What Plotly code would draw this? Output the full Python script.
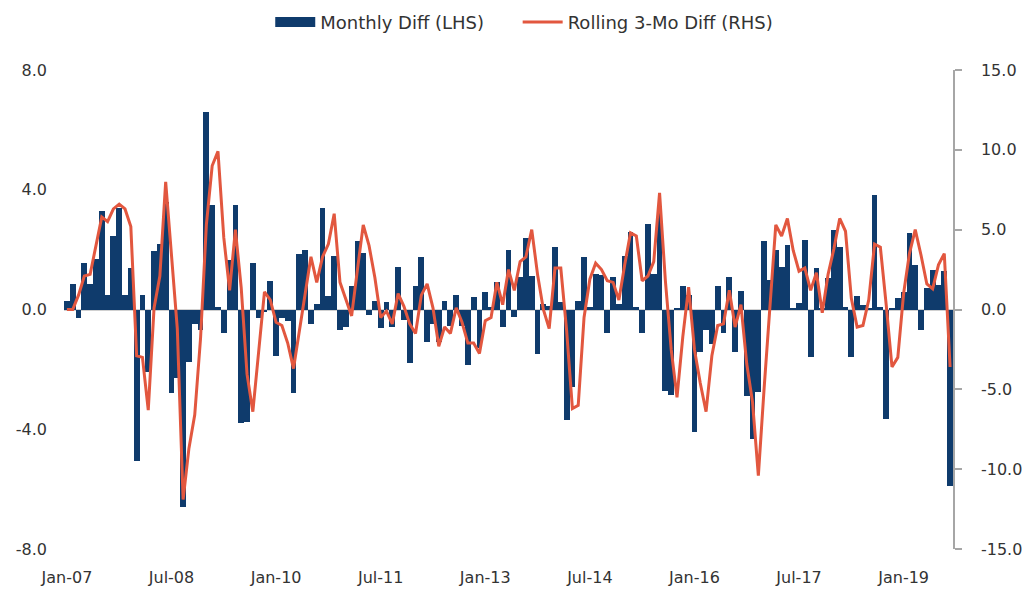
import pandas as pd
import plotly.graph_objects as go

# monthly categories, Jan-07 .. Sep-19
months = pd.date_range("2007-01-01", periods=153, freq="MS").strftime("%b-%y").tolist()

tick_labels = ["Jan-07", "Jul-08", "Jan-10", "Jul-11", "Jan-13",
               "Jul-14", "Jan-16", "Jul-17", "Jan-19"]
lhs_ticks = [-8, -4, 0, 4, 8]
rhs_ticks = [-15, -10, -5, 0, 5, 10, 15]

# Monthly Diff (LHS)
monthly_diff = [
    0.3, 0.85, -0.3, 1.55, 0.85, 1.7, 3.3, 0.5, 2.45, 3.4, 0.5, 1.4,
    -5.05, 0.5, -2.1, 1.95, 2.2, 3.6, -2.8, -2.3, -6.6, -1.75, -0.5, -0.7,
    6.6, 3.5, 0.1, -0.8, 1.65, 3.5, -3.8, -3.75, 1.55, -0.3, -0.1, 0.95,
    -1.55, -0.3, -0.4, -2.8, 1.85, 2.0, -0.5, 0.2, 3.4, 0.45, 1.8, -0.7,
    -0.6, 0.8, 2.3, 1.9, -0.2, 0.3, -0.63, 0.25, -0.58, 1.42, -0.35, -1.8,
    0.8, 1.75, -1.08, -0.5, -1.1, 0.3, -0.55, 0.47, -0.55, -1.87, 0.42, -1.3,
    0.59, 0.1, 0.92, -0.58, 2.0, -0.25, 1.1, 2.4, 1.13, -1.47, 0.2, 0.13,
    2.1, 0.25, -3.7, -2.6, 0.3, 1.75, 0.1, 1.2, 1.15, -0.8, 1.1, 0.2,
    1.8, 2.6, 0.1, -0.8, 2.85, 1.2, 3.3, -2.72, -2.87, 0.05, 0.8, 0.47,
    -4.1, -1.42, -0.67, -1.15, 0.8, -0.8, 1.1, -1.42, 0.63, -2.9, -4.33, -2.75,
    2.3, 1.0, 2.0, 1.42, 2.15, 0.05, 0.22, 2.33, -1.6, 1.4, 0.05, 1.05,
    2.65, 2.1, 0.1, -1.6, 0.45, 0.15, 0.05, 3.83, 0.1, -3.65, 0.05, 0.37,
    0.6, 2.55, 1.5, -0.7, 0.72, 1.33, 0.83, 1.27, -5.9,
]

# Rolling 3-Mo Diff (RHS)
rolling_3mo = [
    0.0, 0.0, 0.9, 2.1, 2.2, 4.1, 5.8, 5.5, 6.3, 6.6, 6.3, 5.2,
    -2.9, -3.0, -6.3, 0.1, 2.1, 8.0, 3.2, -1.2, -11.9, -8.7, -6.6, -1.8,
    5.3, 9.0, 9.9, 4.5, 1.2, 5.0, 1.35, -4.05, -6.4, -2.5, 1.1, 0.6,
    -0.8, -1.0, -2.1, -3.7, -1.3, 1.2, 3.3, 1.7, 3.3, 4.1, 6.0, 1.7,
    0.7, -0.4, 2.5, 5.3, 4.0, 2.0, -0.5, -0.1, -0.9, 1.0, 0.2, -0.9,
    -1.5, 0.9, 1.6, 0.1, -2.3, -1.1, -1.5, 0.1, -0.8, -2.1, -2.1, -2.75,
    -0.7, -0.5, 1.7, 0.3, 2.5, 1.2, 3.0, 3.3, 5.0, 2.2, 0.0, -1.2,
    2.6, 2.6, -1.3, -6.2, -6.0, -0.5, 1.9, 2.9, 2.5, 1.8, 1.7, 0.6,
    2.8, 4.8, 4.6, 1.8, 2.1, 3.0, 7.3, 1.8, -2.5, -5.5, -1.7, 1.4,
    -2.5, -4.6, -6.4, -2.9, -1.0, -0.9, 1.2, -1.1, 0.3, -3.4, -5.8, -10.4,
    -4.9, 0.4, 5.3, 4.6, 5.7, 3.7, 2.4, 2.6, 1.2, 2.3, -0.2, 2.2,
    3.8, 5.7, 4.9, 0.7, -1.1, -1.0, 0.6, 4.1, 3.9, 0.3, -3.6, -3.0,
    1.0, 3.5, 5.0, 3.4, 1.6, 1.3, 2.8, 3.5, -3.6,
]

NAVY = "#0f3b6c"
RED = "#e2573f"
font = dict(family="DejaVu Sans", size=16, color="#333333")

fig = go.Figure()
fig.add_trace(go.Bar(
    x=months, y=monthly_diff, name="Monthly Diff (LHS)", showlegend=False,
    marker=dict(color=NAVY, line=dict(width=0)),
))
# legend-only entry so the bar key is drawn as a wide block like the original
# (trailing no-break spaces widen the gap before the next key)
fig.add_trace(go.Scatter(
    x=[None], y=[None], name="Monthly Diff (LHS)" + "\u00a0" * 5, mode="lines",
    line=dict(color=NAVY, width=14), hoverinfo="skip",
))
fig.add_trace(go.Scatter(
    x=months, y=rolling_3mo, name="Rolling 3-Mo Diff (RHS)", yaxis="y2",
    mode="lines", line=dict(color=RED, width=3),
))

fig.update_layout(
    width=1030, height=589,
    margin=dict(l=64, r=77, t=70, b=40),
    paper_bgcolor="white", plot_bgcolor="white",
    font=font, bargap=0, showlegend=True,
    legend=dict(orientation="h", x=0.232, xanchor="left",
                yref="container", y=0.962, yanchor="middle",
                itemwidth=40, font=dict(size=18)),
    xaxis=dict(type="category", tickmode="array", tickvals=tick_labels,
               ticktext=tick_labels, showgrid=False, showline=False,
               ticks="", ticklabelstandoff=17, automargin=False, tickangle=0),
    yaxis=dict(range=[-8, 8], tickmode="array", tickvals=lhs_ticks,
               ticktext=[f"{v:.1f}" for v in lhs_ticks], showgrid=False,
               zeroline=True, zerolinecolor="#d0d0d0", zerolinewidth=1.5,
               showline=False, ticks="", ticklabelstandoff=16, automargin=False),
    yaxis2=dict(range=[-15, 15], tickmode="array", tickvals=rhs_ticks,
                ticktext=[f"{v:.1f}" for v in rhs_ticks], overlaying="y",
                side="right", showgrid=False, zeroline=False, showline=True,
                linecolor="#a6a6a6", linewidth=1.5, ticks="outside", ticklen=7,
                tickcolor="#a6a6a6", tickwidth=1.5, ticklabelstandoff=16,
                automargin=False),
)

fig.write_html("out.html", config={"displayModeBar": False},
               post_script="document.body.style.margin = '0';")
